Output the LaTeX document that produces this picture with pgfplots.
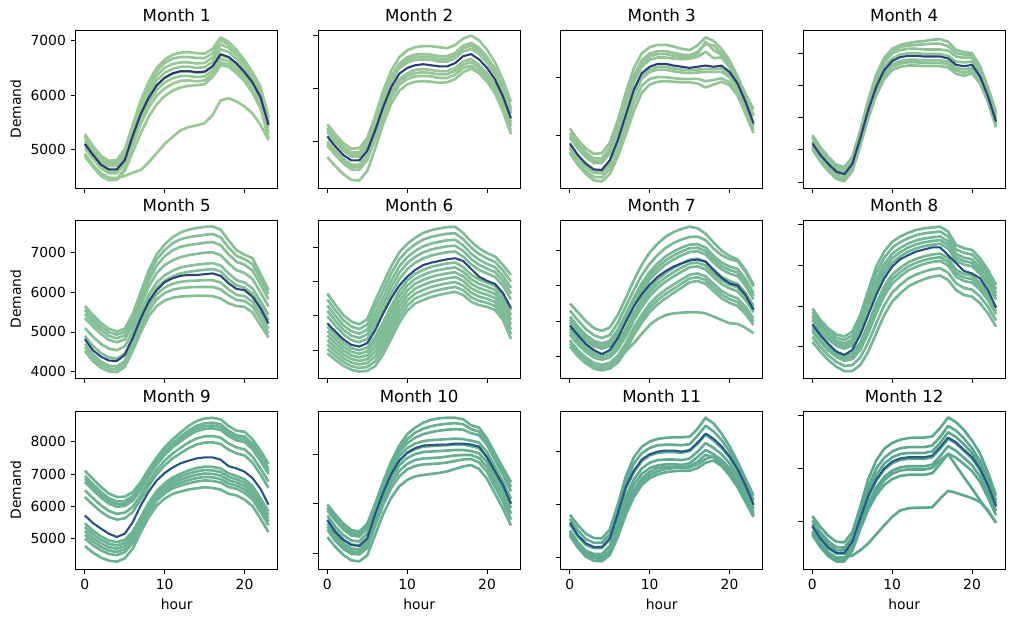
\documentclass[border=0pt]{standalone}
\usepackage{fontspec}
\setmainfont{DejaVu Sans}
\usepackage{pgfplots}
\usepackage{pgfplotstable}
\pgfplotsset{compat=1.18}

\definecolor{c1}{RGB}{152,200,148}\definecolor{m1}{RGB}{44,55,120}
\definecolor{c2}{RGB}{150,198,149}\definecolor{m2}{RGB}{43,58,122}
\definecolor{c3}{RGB}{146,196,149}\definecolor{m3}{RGB}{42,62,124}
\definecolor{c4}{RGB}{140,194,149}\definecolor{m4}{RGB}{41,65,125}
\definecolor{c5}{RGB}{132,191,150}\definecolor{m5}{RGB}{40,68,126}
\definecolor{c6}{RGB}{125,188,149}\definecolor{m6}{RGB}{39,72,128}
\definecolor{c7}{RGB}{120,185,148}\definecolor{m7}{RGB}{38,75,129}
\definecolor{c8}{RGB}{114,182,147}\definecolor{m8}{RGB}{37,79,130}
\definecolor{c9}{RGB}{108,179,147}\definecolor{m9}{RGB}{36,82,131}
\definecolor{c10}{RGB}{102,175,145}\definecolor{m10}{RGB}{35,86,133}
\definecolor{c11}{RGB}{97,172,144}\definecolor{m11}{RGB}{34,89,134}
\definecolor{c12}{RGB}{92,168,142}\definecolor{m12}{RGB}{33,93,135}

% each row: one line over hours 0..23; first row = mean
\pgfplotstableread[header=false]{
5100 4900 4720 4630 4630 4800 5250 5650 5950 6180 6320 6400 6440 6440 6420 6430 6530 6750 6700 6580 6420 6230 5960 5450
5280 5060 4880 4790 4800 5000 5450 5900 6250 6500 6650 6740 6780 6790 6770 6760 6850 7060 6980 6830 6640 6420 6150 5600
5250 5040 4860 4770 4770 4960 5420 5860 6190 6440 6590 6670 6700 6700 6680 6680 6770 7000 6930 6780 6600 6390 6120 5590
5220 5010 4830 4740 4740 4920 5380 5800 6120 6360 6500 6570 6600 6600 6580 6590 6690 6930 6870 6730 6560 6360 6080 5580
5160 4960 4780 4690 4690 4860 5320 5730 6040 6270 6410 6480 6520 6520 6500 6510 6610 6840 6790 6660 6490 6300 6020 5520
5080 4880 4700 4610 4610 4780 5230 5640 5940 6170 6310 6390 6430 6430 6410 6420 6520 6740 6690 6570 6410 6220 5950 5460
5020 4830 4650 4560 4560 4730 5170 5570 5870 6090 6230 6310 6350 6350 6330 6340 6450 6670 6620 6500 6350 6160 5900 5400
4920 4720 4550 4460 4460 4640 5080 5470 5770 5990 6120 6210 6260 6270 6250 6270 6380 6600 6560 6440 6290 6100 5830 5300
4870 4680 4510 4430 4440 4600 4950 5300 5600 5830 5980 6080 6140 6170 6180 6200 6330 6550 6520 6400 6250 6040 5750 5200
4900 4700 4560 4480 4470 4510 4570 4620 4760 4930 5100 5230 5350 5410 5440 5480 5630 5900 5940 5880 5790 5660 5450 5170
}\rawA
\pgfplotstabletranspose{\tA}{\rawA}

\pgfplotstableread[header=false]{
5090 4900 4740 4640 4640 4820 5210 5650 6020 6270 6380 6430 6450 6430 6410 6410 6470 6600 6640 6540 6380 6160 5840 5430
5320 5130 4960 4860 4870 5060 5480 5950 6330 6580 6710 6770 6790 6790 6770 6750 6810 6930 6990 6900 6720 6480 6150 5740
5250 5060 4890 4790 4790 4980 5390 5850 6220 6460 6580 6630 6640 6630 6600 6600 6660 6800 6850 6760 6590 6360 6040 5620
5210 5020 4860 4750 4750 4940 5350 5800 6170 6420 6530 6580 6590 6580 6550 6550 6610 6750 6800 6700 6540 6310 5990 5570
5170 4980 4820 4710 4710 4900 5300 5750 6120 6370 6480 6530 6540 6530 6500 6500 6560 6690 6740 6640 6480 6250 5940 5520
5000 4820 4670 4560 4560 4750 5130 5560 5920 6170 6280 6340 6360 6340 6320 6320 6380 6500 6550 6440 6280 6070 5750 5350
4960 4780 4630 4520 4510 4700 5090 5510 5870 6120 6230 6280 6300 6280 6260 6260 6320 6440 6490 6380 6220 6010 5690 5280
4920 4740 4580 4470 4460 4650 5040 5460 5820 6060 6170 6220 6230 6220 6190 6190 6250 6380 6420 6320 6160 5940 5620 5200
4700 4530 4380 4270 4260 4440 4870 5330 5710 5950 6070 6120 6130 6120 6100 6110 6170 6300 6370 6280 6120 5900 5560 5130
}\rawB
\pgfplotstabletranspose{\tB}{\rawB}

\pgfplotstableread[header=false]{
4860 4660 4510 4410 4400 4570 4920 5350 5790 6080 6190 6240 6240 6210 6190 6170 6190 6210 6190 6210 6100 5900 5580 5210
5120 4920 4770 4680 4690 4870 5260 5740 6160 6420 6530 6570 6570 6540 6500 6480 6560 6700 6640 6500 6300 6020 5720 5450
5040 4850 4700 4600 4600 4780 5160 5610 6030 6300 6420 6460 6460 6430 6400 6390 6450 6580 6560 6430 6240 5980 5670 5360
5000 4810 4660 4560 4560 4740 5110 5560 5980 6250 6370 6410 6410 6380 6360 6360 6410 6620 6480 6390 6210 5960 5650 5340
4960 4770 4620 4520 4520 4690 5060 5500 5920 6190 6310 6350 6350 6330 6320 6330 6360 6450 6340 6350 6180 5940 5630 5330
4820 4630 4480 4380 4380 4540 4890 5310 5740 6030 6140 6190 6190 6160 6140 6130 6140 6150 6150 6160 6060 5860 5540 5180
4780 4590 4450 4350 4340 4500 4840 5260 5690 5980 6100 6140 6140 6110 6090 6080 6090 6100 6100 6100 6010 5810 5500 5150
4720 4520 4380 4280 4270 4420 4750 5150 5560 5860 5980 6010 6010 5990 5980 5980 5980 5940 5960 5990 5920 5730 5420 5080
4690 4490 4330 4220 4200 4330 4630 5010 5420 5740 5880 5930 5940 5930 5920 5920 5900 5830 5880 5930 5870 5690 5370 5040
}\rawC
\pgfplotstabletranspose{\tC}{\rawC}

\pgfplotstableread[header=false]{
5100 4920 4780 4660 4620 4780 5180 5620 5980 6240 6380 6440 6460 6460 6450 6450 6450 6420 6320 6300 6320 6140 5830 5440
5230 5040 4890 4770 4730 4890 5300 5780 6170 6430 6570 6630 6660 6680 6690 6710 6720 6680 6550 6520 6500 6300 5970 5590
5200 5020 4870 4750 4710 4870 5280 5750 6140 6400 6540 6600 6620 6630 6640 6650 6650 6610 6500 6480 6470 6270 5940 5560
5180 5000 4850 4730 4690 4850 5260 5720 6100 6360 6500 6550 6570 6570 6560 6560 6560 6540 6450 6430 6430 6240 5910 5520
5130 4950 4810 4690 4650 4810 5210 5660 6030 6290 6420 6480 6500 6500 6490 6490 6490 6460 6370 6360 6370 6190 5870 5480
5060 4880 4740 4620 4570 4740 5130 5570 5930 6190 6330 6380 6400 6400 6390 6390 6390 6370 6270 6250 6270 6090 5790 5410
5030 4850 4710 4590 4540 4710 5100 5530 5890 6150 6290 6340 6360 6360 6350 6350 6350 6330 6230 6200 6230 6060 5770 5380
5000 4820 4670 4550 4510 4670 5060 5490 5850 6100 6240 6290 6310 6310 6300 6300 6300 6280 6180 6150 6190 6030 5740 5350
}\rawD
\pgfplotstabletranspose{\tD}{\rawD}

\pgfplotstableread[header=false]{
4820 4540 4380 4280 4270 4420 4850 5340 5760 6050 6250 6350 6410 6430 6430 6450 6470 6410 6220 6080 6050 5880 5590 5210
5650 5430 5230 5080 5010 5080 5450 6000 6550 6950 7200 7380 7500 7570 7610 7640 7650 7570 7300 7050 6940 6850 6450 6050
5550 5330 5140 4990 4930 5000 5370 5900 6420 6820 7060 7230 7330 7380 7410 7440 7460 7380 7120 6910 6830 6700 6330 5950
5450 5240 5050 4900 4840 4910 5260 5780 6290 6670 6900 7050 7140 7180 7210 7240 7260 7180 6950 6760 6690 6540 6190 5820
5350 5140 4950 4800 4740 4810 5160 5660 6140 6480 6680 6800 6880 6930 6960 6990 7000 6930 6720 6550 6480 6330 5990 5640
5100 4880 4700 4580 4540 4640 5010 5490 5930 6240 6420 6540 6620 6660 6690 6710 6730 6670 6470 6300 6240 6090 5780 5430
4900 4650 4470 4360 4330 4450 4860 5360 5800 6110 6290 6400 6470 6510 6540 6560 6580 6520 6320 6170 6110 5960 5650 5300
4700 4440 4260 4150 4130 4270 4700 5200 5650 5950 6120 6210 6260 6280 6290 6300 6300 6240 6070 5930 5900 5760 5460 5080
4620 4360 4180 4080 4060 4200 4620 5100 5530 5820 5980 6060 6100 6120 6130 6130 6130 6070 5920 5800 5780 5640 5320 4960
4520 4270 4100 4010 3990 4120 4530 4990 5400 5650 5790 5860 5890 5900 5910 5910 5900 5840 5720 5650 5630 5490 5170 4860
}\rawE
\pgfplotstabletranspose{\tE}{\rawE}

\pgfplotstableread[header=false]{
4780 4540 4310 4150 4100 4200 4580 5070 5510 5880 6140 6340 6480 6550 6600 6650 6680 6600 6370 6140 6020 5930 5660 5220
5650 5320 5020 4830 4750 4900 5450 5950 6450 6850 7100 7280 7420 7500 7550 7590 7600 7420 7170 6970 6830 6730 6480 6190
5475 5159 4872 4689 4612 4749 5258 5743 6238 6645 6905 7088 7224 7305 7356 7397 7410 7239 6994 6804 6673 6574 6320 6003
5300 4998 4724 4548 4474 4598 5066 5536 6026 6440 6710 6896 7028 7110 7162 7204 7220 7058 6818 6638 6516 6418 6160 5816
5143 4853 4591 4421 4350 4462 4893 5350 5835 6256 6535 6723 6852 6935 6988 7031 7049 6895 6660 6489 6375 6278 6016 5648
4985 4708 4458 4294 4226 4326 4720 5163 5644 6071 6359 6550 6675 6759 6813 6857 6878 6732 6501 6339 6233 6137 5872 5479
4688 4435 4206 4055 3991 4070 4394 4812 5284 5723 6028 6224 6342 6428 6483 6529 6555 6425 6202 6057 5967 5872 5600 5162
4425 4193 3984 3843 3784 3843 4106 4501 4966 5415 5735 5936 6048 6135 6192 6239 6270 6153 5938 5808 5731 5638 5360 4881
4294 4073 3873 3738 3681 3730 3962 4346 4807 5262 5589 5792 5901 5989 6047 6095 6128 6018 5806 5684 5614 5521 5240 4741
4163 3952 3762 3632 3577 3617 3818 4191 4648 5108 5443 5648 5754 5843 5901 5950 5985 5882 5674 5559 5496 5404 5120 4601
3900 3710 3540 3420 3370 3390 3530 3880 4330 4800 5150 5360 5460 5550 5610 5660 5700 5610 5410 5310 5260 5170 4880 4320
4032 3831 3651 3526 3474 3504 3674 4036 4489 4954 5297 5504 5607 5697 5756 5805 5843 5746 5542 5435 5378 5287 5000 4461
4557 4314 4095 3949 3888 3957 4250 4657 5125 5569 5882 6080 6195 6282 6338 6384 6413 6289 6070 5933 5849 5755 5480 5022
}\rawF
\pgfplotstabletranspose{\tF}{\rawF}

\pgfplotstableread[header=false]{
4870 4600 4350 4180 4060 4180 4510 4980 5410 5760 6040 6260 6420 6550 6640 6720 6750 6690 6450 6230 6070 6010 5740 5320
5500 5250 5000 4800 4720 4820 5170 5650 6150 6600 6950 7200 7400 7530 7620 7680 7640 7480 7230 7000 6850 6750 6450 6030
5300 5020 4770 4600 4520 4600 4950 5420 5880 6300 6630 6880 7080 7220 7320 7390 7400 7300 7060 6870 6760 6700 6400 5980
5127 4847 4605 4439 4364 4439 4758 5204 5662 6071 6397 6642 6837 6979 7087 7171 7186 7089 6854 6663 6549 6484 6196 5795
4963 4683 4450 4287 4216 4287 4577 5001 5458 5855 6178 6418 6608 6751 6868 6964 6984 6891 6661 6467 6351 6281 6004 5620
4790 4510 4285 4125 4060 4125 4385 4785 5240 5625 5945 6180 6365 6510 6635 6745 6770 6680 6455 6260 6140 6065 5800 5435
4617 4337 4120 3964 3904 3964 4193 4569 5022 5396 5712 5942 6122 6269 6402 6526 6556 6469 6249 6053 5929 5849 5596 5250
4453 4173 3965 3812 3756 3812 4012 4366 4818 5180 5493 5718 5893 6041 6183 6319 6354 6271 6056 5857 5731 5646 5404 5075
4280 4000 3800 3650 3600 3650 3820 4150 4600 4950 5260 5480 5650 5800 5950 6100 6140 6060 5850 5650 5520 5430 5200 4890
4450 4150 3900 3720 3640 3740 3930 4140 4370 4640 4890 5060 5170 5220 5240 5250 5250 5220 5130 5030 4940 4920 4810 4650
5045 4765 4528 4363 4290 4363 4668 5103 5560 5963 6288 6530 6723 6865 6978 7068 7085 6990 6758 6565 6450 6383 6100 5708
4704 4424 4203 4045 3982 4045 4289 4677 5131 5511 5829 6061 6244 6390 6519 6636 6663 6575 6352 6157 6035 5957 5698 5343
4367 4087 3883 3731 3678 3731 3916 4258 4709 5065 5377 5599 5772 5921 6067 6210 6247 6166 5953 5754 5626 5538 5302 4983
}\rawG
\pgfplotstabletranspose{\tG}{\rawG}

\pgfplotstableread[header=false]{
4550 4290 4070 3880 3800 3920 4290 4780 5270 5680 5970 6150 6250 6340 6390 6440 6440 6250 6050 5860 5800 5680 5390 4960
4940 4660 4450 4300 4250 4370 4780 5390 5970 6340 6580 6710 6800 6870 6910 6930 6950 6830 6500 6420 6380 6170 5890 5520
4858 4582 4372 4221 4165 4273 4657 5239 5806 6184 6433 6570 6668 6741 6785 6809 6830 6711 6389 6305 6265 6060 5783 5417
4776 4504 4294 4142 4080 4176 4534 5088 5642 6028 6286 6430 6536 6612 6660 6688 6710 6592 6278 6190 6150 5950 5676 5314
4653 4387 4177 4024 3953 4031 4350 4862 5396 5794 6066 6220 6338 6419 6473 6507 6530 6414 6112 6018 5978 5785 5516 5160
4489 4231 4021 3866 3783 3837 4104 4560 5068 5482 5772 5940 6074 6161 6223 6265 6290 6176 5890 5788 5748 5565 5302 4954
4366 4114 3904 3747 3655 3691 3919 4333 4822 5248 5551 5730 5876 5967 6035 6083 6110 5997 5723 5615 5575 5400 5141 4799
4243 3997 3787 3629 3528 3546 3735 4107 4576 5014 5331 5520 5678 5774 5848 5902 5930 5819 5557 5443 5403 5235 4981 4645
4120 3880 3670 3510 3400 3400 3550 3880 4330 4780 5110 5310 5480 5580 5660 5720 5750 5640 5390 5270 5230 5070 4820 4490
4428 4173 3963 3807 3719 3764 4012 4447 4945 5365 5662 5835 5975 6064 6129 6174 6200 6087 5807 5702 5662 5483 5222 4877
4715 4446 4236 4083 4017 4104 4442 4975 5519 5911 6176 6325 6437 6516 6567 6598 6620 6503 6195 6104 6064 5868 5596 5237
}\rawH
\pgfplotstabletranspose{\tH}{\rawH}

\pgfplotstableread[header=false]{
5720 5490 5320 5160 5060 5160 5520 6030 6460 6800 7030 7200 7330 7410 7480 7510 7510 7440 7240 7170 7070 6870 6540 6050
7100 6850 6600 6400 6290 6300 6440 6750 7150 7510 7820 8070 8280 8480 8630 8710 8730 8680 8480 8330 8300 8070 7710 7310
6938 6691 6448 6255 6151 6167 6318 6642 7046 7406 7709 7952 8153 8343 8485 8562 8579 8529 8334 8191 8154 7926 7564 7163
6752 6509 6274 6089 5991 6015 6179 6519 6928 7288 7583 7818 8007 8186 8319 8392 8406 8356 8166 8031 7986 7761 7396 6995
6497 6260 6036 5862 5773 5806 5988 6350 6765 7125 7409 7633 7807 7970 8092 8159 8168 8118 7937 7813 7757 7534 7167 6764
6288 6056 5841 5676 5594 5635 5831 6211 6632 6992 7267 7482 7643 7794 7906 7968 7974 7924 7749 7634 7569 7349 6979 6575
5476 5261 5081 4951 4897 4970 5222 5672 6114 6474 6714 6894 7006 7108 7181 7226 7218 7168 7017 6937 6837 6628 6247 5840
5244 5034 4864 4744 4698 4780 5048 5518 5966 6326 6556 6726 6824 6912 6974 7014 7002 6952 6808 6738 6628 6422 6038 5630
5012 4807 4647 4537 4499 4590 4874 5364 5818 6178 6398 6558 6642 6716 6767 6802 6786 6736 6599 6539 6419 6216 5829 5420
4780 4580 4430 4330 4300 4400 4700 5210 5670 6030 6240 6390 6460 6520 6560 6590 6570 6520 6390 6340 6210 6010 5620 5210
5360 5148 4973 4848 4798 4875 5135 5595 6040 6400 6635 6810 6915 7010 7078 7120 7110 7060 6913 6838 6733 6525 6143 5735
5128 4921 4756 4641 4599 4685 4961 5441 5892 6252 6477 6642 6733 6814 6871 6908 6894 6844 6704 6639 6524 6319 5934 5525
6845 6600 6361 6172 6071 6091 6249 6581 6987 7347 7646 7885 8080 8265 8402 8477 8493 8443 8250 8111 8070 7844 7480 7079
}\rawI
\pgfplotstabletranspose{\tI}{\rawI}

\pgfplotstableread[header=false]{
5670 5430 5270 5170 5150 5300 5800 6230 6600 6870 7030 7120 7170 7180 7190 7190 7210 7210 7190 7150 6930 6650 6370 6000
5980 5780 5600 5470 5440 5600 6000 6450 6850 7170 7400 7530 7630 7690 7720 7730 7730 7700 7580 7530 7310 7010 6720 6430
5920 5720 5540 5410 5390 5550 5980 6420 6800 7100 7300 7430 7510 7560 7590 7610 7620 7600 7500 7450 7240 6950 6660 6340
5870 5660 5480 5360 5340 5500 5960 6390 6760 7040 7220 7330 7400 7440 7470 7490 7500 7490 7420 7380 7180 6880 6580 6250
5760 5540 5370 5260 5240 5400 5890 6330 6700 6960 7120 7210 7260 7280 7290 7300 7310 7300 7270 7230 7040 6740 6440 6100
5680 5450 5280 5180 5160 5310 5800 6240 6610 6860 7020 7100 7150 7160 7170 7180 7190 7190 7160 7120 6940 6650 6360 6000
5600 5370 5200 5100 5080 5230 5720 6160 6520 6770 6920 7000 7040 7050 7060 7070 7080 7080 7060 7010 6840 6560 6280 5910
5540 5310 5140 5040 5030 5170 5640 6070 6420 6660 6800 6880 6910 6920 6930 6950 6970 6980 6980 6920 6740 6450 6160 5800
5480 5250 5090 4990 4980 5110 5560 5980 6320 6550 6690 6760 6790 6800 6810 6830 6860 6890 6900 6830 6640 6340 6040 5680
5330 5130 4970 4860 4840 4960 5380 5800 6120 6350 6480 6550 6580 6600 6620 6650 6700 6750 6780 6700 6500 6200 5900 5560
}\rawJ
\pgfplotstabletranspose{\tJ}{\rawJ}

\pgfplotstableread[header=false]{
5650 5410 5260 5190 5190 5350 5820 6320 6630 6840 6940 6990 7010 7010 6990 7020 7160 7330 7230 7090 6900 6660 6350 5990
5800 5600 5440 5360 5350 5520 5990 6520 6880 7080 7180 7230 7250 7260 7260 7270 7420 7630 7520 7330 7090 6800 6480 6160
5720 5500 5340 5270 5270 5430 5900 6410 6760 6960 7060 7110 7120 7120 7110 7130 7290 7480 7370 7210 6990 6730 6410 6070
5620 5390 5230 5170 5170 5330 5790 6290 6600 6810 6920 6970 6980 6980 6970 7000 7140 7310 7200 7060 6880 6640 6330 5980
5500 5280 5120 5060 5060 5210 5660 6140 6460 6670 6780 6830 6840 6840 6830 6860 6990 7150 7060 6940 6770 6550 6250 5900
5420 5200 5050 4990 4990 5130 5550 6030 6360 6570 6680 6730 6750 6750 6740 6770 6890 7020 6940 6830 6680 6470 6180 5840
5480 5260 5100 5020 5010 5120 5480 5920 6250 6480 6610 6680 6700 6700 6700 6710 6800 6930 6880 6760 6590 6360 6070 5780
5450 5230 5060 4980 4960 5080 5430 5860 6190 6420 6550 6620 6660 6680 6690 6690 6750 6850 6900 6800 6620 6390 6100 5790
5400 5180 5010 4930 4920 5040 5380 5800 6130 6360 6490 6560 6600 6620 6630 6630 6680 6780 6820 6720 6540 6320 6040 5760
}\rawK
\pgfplotstabletranspose{\tK}{\rawK}

\pgfplotstableread[header=false]{
4920 4680 4510 4410 4410 4620 5060 5490 5790 6000 6130 6190 6210 6210 6210 6240 6400 6580 6490 6350 6210 5990 5680 5290
5100 4900 4730 4620 4610 4800 5280 5800 6150 6370 6480 6540 6570 6580 6580 6600 6760 6960 6870 6720 6520 6280 5920 5490
5020 4800 4630 4520 4510 4710 5170 5650 6000 6200 6320 6380 6400 6400 6400 6430 6590 6800 6710 6560 6380 6140 5810 5400
4960 4740 4570 4460 4460 4660 5100 5560 5880 6090 6210 6270 6290 6290 6290 6320 6480 6680 6590 6450 6290 6060 5740 5340
4900 4670 4500 4400 4400 4610 5040 5470 5770 5980 6100 6160 6180 6180 6180 6210 6370 6560 6470 6330 6190 5970 5660 5280
4820 4590 4420 4320 4320 4520 4950 5350 5640 5840 5960 6020 6040 6040 6040 6070 6230 6420 6330 6200 6060 5850 5550 5200
4750 4520 4350 4250 4250 4450 4860 5230 5500 5690 5800 5860 5880 5880 5880 5910 6080 6280 6200 6080 5950 5750 5450 5120
4800 4570 4400 4300 4300 4500 4920 5300 5580 5780 5900 5960 5980 5980 5980 6010 6150 6270 6050 5830 5620 5400 5190 4980
4780 4560 4400 4320 4330 4360 4460 4590 4760 4930 5090 5210 5250 5260 5260 5270 5430 5580 5540 5490 5440 5370 5210 4980
}\rawL
\pgfplotstabletranspose{\tL}{\rawL}

\pgfplotsset{
  panel/.style={
    scale only axis, width=145.44pt, height=113.76pt, anchor=south west,
    xmin=-1.15, xmax=24.15, xtick={0,10,20},
    tick align=outside, xtick pos=bottom, ytick pos=left,
    major tick length=3.5pt,
    every tick/.style={black, line width=0.6pt},
    axis line style={line width=0.6pt},
    tick label style={font=\fontsize{10}{12}\selectfont},
    label style={font=\fontsize{10}{12}\selectfont},
    title style={font=\fontsize{12}{14}\selectfont, yshift=-3.5pt},
    /pgf/number format/assume math mode=true,
    /pgf/number format/set thousands separator={},
    scaled ticks=false,
    every axis plot/.append style={line width=1.9pt, line join=round},
  },
  nox/.style={xticklabel=\empty},
  noy/.style={yticklabel=\empty},
  mean/.style={line width=1.5pt},
}

\begin{document}
\begin{tikzpicture}
\path[use as bounding box] (0,0) rectangle (730.08pt,447.84pt);
% Row 1
\begin{axis}[panel, at={(54.5pt,312.48pt)}, ymin=4288, ymax=7196, ytick={5000,6000,7000}, nox, ylabel={Demand}, title={Month 1}]
\pgfplotsinvokeforeach{2,...,10}{\addplot[c1] table[x=colnames, y index=#1]{\tA};}
\addplot[m1, mean] table[x=colnames, y index=1]{\tA};
\end{axis}
\begin{axis}[panel, at={(229.1pt,312.48pt)}, ymin=4119, ymax=7094, ytick={5000,6000,7000}, nox, noy, title={Month 2}]
\pgfplotsinvokeforeach{2,...,9}{\addplot[c2] table[x=colnames, y index=#1]{\tB};}
\addplot[m2, mean] table[x=colnames, y index=1]{\tB};
\end{axis}
\begin{axis}[panel, at={(403.7pt,312.48pt)}, ymin=4087, ymax=6827, ytick={5000,6000}, nox, noy, title={Month 3}]
\pgfplotsinvokeforeach{2,...,9}{\addplot[c3] table[x=colnames, y index=#1]{\tC};}
\addplot[m3, mean] table[x=colnames, y index=1]{\tC};
\end{axis}
\begin{axis}[panel, at={(578.3pt,312.48pt)}, ymin=4407, ymax=6862, ytick={4500,5000,5500,6000,6500}, nox, noy, title={Month 4}]
\pgfplotsinvokeforeach{2,...,8}{\addplot[c4] table[x=colnames, y index=#1]{\tD};}
\addplot[m4, mean] table[x=colnames, y index=1]{\tD};
\end{axis}
% Row 2
\begin{axis}[panel, at={(54.5pt,175.68pt)}, ymin=3842, ymax=7812, ytick={4000,5000,6000,7000}, nox, ylabel={Demand}, title={Month 5}]
\pgfplotsinvokeforeach{2,...,10}{\addplot[c5] table[x=colnames, y index=#1]{\tE};}
\addplot[m5, mean] table[x=colnames, y index=1]{\tE};
\end{axis}
\begin{axis}[panel, at={(229.1pt,175.68pt)}, ymin=3181, ymax=7798, ytick={4000,5000,6000,7000}, nox, noy, title={Month 6}]
\pgfplotsinvokeforeach{2,...,13}{\addplot[c6] table[x=colnames, y index=#1]{\tF};}
\addplot[m6, mean] table[x=colnames, y index=1]{\tF};
\end{axis}
\begin{axis}[panel, at={(403.7pt,175.68pt)}, ymin=3383, ymax=7872, ytick={4000,5000,6000,7000}, nox, noy, title={Month 7}]
\pgfplotsinvokeforeach{2,...,13}{\addplot[c7] table[x=colnames, y index=#1]{\tG};}
\addplot[m7, mean] table[x=colnames, y index=1]{\tG};
\end{axis}
\begin{axis}[panel, at={(578.3pt,175.68pt)}, ymin=3231, ymax=7115, ytick={4000,5000,6000,7000}, nox, noy, title={Month 8}]
\pgfplotsinvokeforeach{2,...,11}{\addplot[c8] table[x=colnames, y index=#1]{\tH};}
\addplot[m8, mean] table[x=colnames, y index=1]{\tH};
\end{axis}
% Row 3
\begin{axis}[panel, at={(54.5pt,38.16pt)}, ymin=4073, ymax=8939, ytick={5000,6000,7000,8000}, ylabel={Demand}, xlabel={hour}, title={Month 9}]
\pgfplotsinvokeforeach{2,...,13}{\addplot[c9] table[x=colnames, y index=#1]{\tI};}
\addplot[m9, mean] table[x=colnames, y index=1]{\tI};
\end{axis}
\begin{axis}[panel, at={(229.1pt,38.16pt)}, ymin=4686, ymax=7866, ytick={5000,6000,7000}, noy, xlabel={hour}, title={Month 10}]
\pgfplotsinvokeforeach{2,...,10}{\addplot[c10] table[x=colnames, y index=#1]{\tJ};}
\addplot[m10, mean] table[x=colnames, y index=1]{\tJ};
\end{axis}
\begin{axis}[panel, at={(403.7pt,38.16pt)}, ymin=4775, ymax=7756, ytick={5000,6000,7000}, noy, xlabel={hour}, title={Month 11}]
\pgfplotsinvokeforeach{2,...,9}{\addplot[c11] table[x=colnames, y index=#1]{\tK};}
\addplot[m11, mean] table[x=colnames, y index=1]{\tK};
\end{axis}
\begin{axis}[panel, at={(578.3pt,38.16pt)}, ymin=4108, ymax=7080, ytick={5000,6000,7000}, noy, xlabel={hour}, title={Month 12}]
\pgfplotsinvokeforeach{2,...,9}{\addplot[c12] table[x=colnames, y index=#1]{\tL};}
\addplot[m12, mean] table[x=colnames, y index=1]{\tL};
\end{axis}
\end{tikzpicture}
\end{document}
